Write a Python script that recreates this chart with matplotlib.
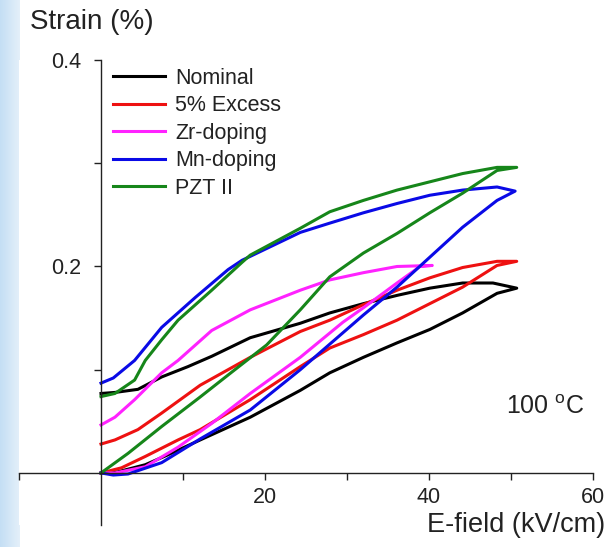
import numpy as np
import matplotlib
matplotlib.use("Agg")
import matplotlib.pyplot as plt

plt.rcParams['font.family'] = ['Liberation Sans', 'DejaVu Sans']
plt.rcParams['mathtext.fontset'] = 'custom'
plt.rcParams['mathtext.rm'] = 'Liberation Sans'

labels = ["Nominal", "5% Excess", "Zr-doping", "Mn-doping", "PZT II"]
colors = ["#000000", "#ee1111", "#ff22ff", "#0a0ae6", "#16861a"]

# lower branch (field going up), E in kV/cm, strain in %
nom_lo_E = [0, 2, 5.4, 8, 12.1, 18.2, 24.3, 27.9, 32, 36.1, 40.1, 44.1, 48.3, 50.7]
nom_lo_S = [0, 0.001, 0.008, 0.017, 0.032, 0.054, 0.080, 0.097, 0.112, 0.126, 0.139, 0.155, 0.174, 0.179]
# upper branch (field coming back down)
nom_up_E = [50.7, 47.8, 44.1, 40.1, 36.1, 32, 27.9, 24.3, 18.2, 13.5, 10.6, 7.4, 4.5, 1.7, 0]
nom_up_S = [0.179, 0.184, 0.184, 0.179, 0.172, 0.164, 0.155, 0.145, 0.131, 0.113, 0.103, 0.093, 0.081, 0.078, 0.077]

exc_lo_E = [0, 2.5, 5.4, 9.4, 12.1, 18.2, 24.3, 27.9, 32, 36.1, 40.1, 44.1, 48.3, 50.7]
exc_lo_S = [0, 0.005, 0.016, 0.032, 0.042, 0.071, 0.103, 0.121, 0.134, 0.148, 0.164, 0.180, 0.201, 0.205]
exc_up_E = [50.7, 48.3, 44.1, 40.1, 36.1, 32, 27.9, 24.3, 18.2, 12.1, 7.4, 4.5, 1.7, 0]
exc_up_S = [0.205, 0.205, 0.199, 0.189, 0.177, 0.163, 0.148, 0.137, 0.112, 0.085, 0.058, 0.042, 0.032, 0.028]

zr_lo_E = [0, 1.7, 5.4, 9.4, 13.5, 18.2, 24.3, 29.5, 32, 36.1, 38.9, 40.4]
zr_lo_S = [0, 0, 0.006, 0.025, 0.048, 0.077, 0.112, 0.146, 0.160, 0.184, 0.200, 0.201]
zr_up_E = [40.4, 36.1, 32, 27.9, 24.3, 18.2, 13.5, 9.4, 7.4, 4.1, 1.7, 0]
zr_up_S = [0.201, 0.200, 0.194, 0.187, 0.177, 0.158, 0.138, 0.109, 0.097, 0.071, 0.054, 0.0465]

mn_lo_E = [0, 1.5, 3.3, 7.4, 12.1, 18.2, 24.3, 32, 36.1, 40.1, 44.1, 48.3, 50.5]
mn_lo_S = [0, -0.002, -0.001, 0.010, 0.033, 0.061, 0.100, 0.153, 0.180, 0.209, 0.238, 0.264, 0.273]
mn_up_E = [50.5, 48.3, 44.1, 40.1, 36.1, 32, 27.9, 24.3, 17.2, 15.5, 11.5, 7.4, 4.1, 1.5, 0]
mn_up_S = [0.273, 0.277, 0.274, 0.269, 0.261, 0.252, 0.242, 0.233, 0.206, 0.197, 0.170, 0.141, 0.109, 0.092, 0.087]

pzt_lo_E = [0, 3.3, 7.4, 12, 16, 20.2, 24.3, 27.9, 32, 36.1, 40.1, 44.1, 48.3, 50.7]
pzt_lo_S = [0, 0.019, 0.045, 0.073, 0.098, 0.124, 0.158, 0.190, 0.213, 0.232, 0.252, 0.271, 0.293, 0.296]
pzt_up_E = [50.7, 48.3, 44.1, 40.1, 36.1, 32, 27.9, 24.3, 18.2, 17.2, 13.5, 9.4, 7.4, 5.4, 4.1, 1.7, 0]
pzt_up_S = [0.296, 0.296, 0.290, 0.282, 0.274, 0.264, 0.253, 0.237, 0.211, 0.204, 0.177, 0.148, 0.129, 0.109, 0.090, 0.077, 0.074]

loops = [
    (nom_lo_E, nom_lo_S, nom_up_E, nom_up_S),
    (exc_lo_E, exc_lo_S, exc_up_E, exc_up_S),
    (zr_lo_E, zr_lo_S, zr_up_E, zr_up_S),
    (mn_lo_E, mn_lo_S, mn_up_E, mn_up_S),
    (pzt_lo_E, pzt_lo_S, pzt_up_E, pzt_up_S),
]

fig = plt.figure(figsize=(6.10, 5.47), dpi=100)

# light blue strip at the left edge of the slide
strip = fig.add_axes([0, 0, 20 / 610, 1])
grad = np.linspace(0, 1, 50).reshape(1, -1)
strip.imshow(grad, aspect="auto", cmap=matplotlib.colors.LinearSegmentedColormap.from_list(
    "s", ["#c4def4", "#e4f0fa"]), extent=[0, 1, 0, 1])
strip.axis("off")

ax = fig.add_axes([19 / 610, 22 / 547, 574 / 610, 465 / 547])
for (elo, slo, eup, sup), c, lab in zip(loops, colors, labels):
    ax.plot(elo + eup[1:], slo + sup[1:], color=c, lw=2.2, label=lab,
            solid_joinstyle="round")

ax.set_xlim(-10, 60)
ax.set_ylim(-0.0504, 0.4)
for s in ["top", "right"]:
    ax.spines[s].set_visible(False)
ax.spines["left"].set_position(("data", 0))
ax.spines["bottom"].set_position(("data", 0))
for s in ["left", "bottom"]:
    ax.spines[s].set_linewidth(1.0)
    ax.spines[s].set_color("#222222")

ax.set_xticks([20, 40, 60])
ax.set_xticks([-10, 10, 30, 50], minor=True)
ax.set_yticks([0.2, 0.4])
ax.set_yticks([0.1, 0.3], minor=True)
ax.set_yticklabels(["0.2", "0.4"])
ax.tick_params(which="both", direction="out", length=5, width=1.0, color="#222222",
               labelsize=15.5, labelcolor="#222222")
ax.tick_params(axis="y", pad=9)
ax.tick_params(axis="x", pad=5)

fig.text(30 / 610, 1 - 22 / 547, "Strain (%)", fontsize=20, ha="left", va="center",
         color="#222222")
fig.text(605 / 610, 1 - 525 / 547, "E-field (kV/cm)", fontsize=19.5, ha="right",
         va="center", color="#222222")
ax.text(59, 0.064, r"100 $^\mathrm{o}$C", fontsize=18, ha="right", va="center",
        color="#222222")

ax.legend(frameon=False, loc="upper left", bbox_to_anchor=(113 / 610, 1 - 68 / 547),
          bbox_transform=fig.transFigure, fontsize=15.5, handlelength=2.4,
          handletextpad=0.5, labelspacing=0.3, borderpad=0, borderaxespad=0,
          labelcolor="#222222")

fig.savefig("out.png", dpi=100)
